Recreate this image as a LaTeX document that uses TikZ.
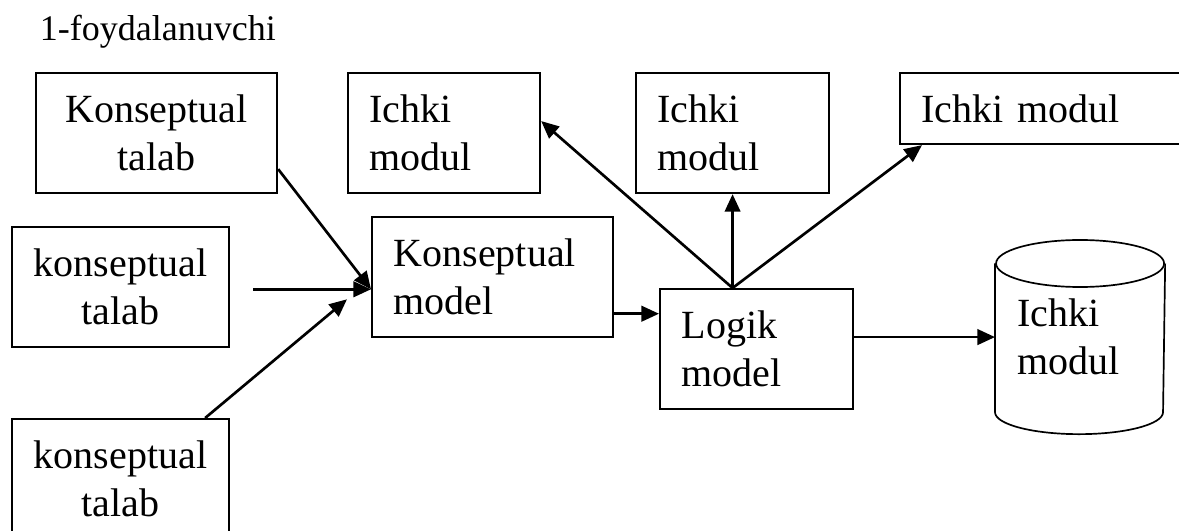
\documentclass[tikz,border=0pt]{standalone}
\usepackage{fontspec}
\setmainfont{Liberation Serif}
\usetikzlibrary{arrows.meta, positioning, calc}

\begin{document}
\begin{tikzpicture}[x=0.025cm, y=-0.025cm,
    font=\fontsize{28.45pt}{34.1pt}\selectfont,
    blok/.style={draw, line width=1.5pt, inner ysep=0pt, anchor=north west},
    talab/.style={blok, align=center},
    ichki/.style={blok, align=left, inner xsep=0.54cm, text width=#1},
    oq/.style={-{Triangle[length=12.5pt, width=11pt]}, line width=1.9pt},
    silinder/.style={line width=1.2pt}]
  \useasboundingbox (0,0) rectangle (1179,531);
  \node[anchor=base west, font=\fontsize{25.6pt}{30pt}\selectfont]
    (sarlavha) at (35,41) {1-foydalanuvchi};
  % talablar
  \node[talab, minimum width=6.025cm, minimum height=3cm] (talab1) at (35,72)
    {Konseptual\\talab};
  \node[talab, minimum width=5.425cm, minimum height=3cm] (talab2) at (11,226)
    {konseptual\\talab};
  \node[talab, minimum width=5.425cm, minimum height=3cm] (talab3) at (11,418)
    {konseptual\\talab};
  % modellar
  \node[ichki=4.945cm, minimum height=3cm] (km) at (371,216) {Konseptual\\model};
  \node[ichki=3.745cm, minimum height=3cm] (logik) at (659,288) {Logik\\model};
  % ichki modullar
  \node[ichki=3.72cm, minimum height=3cm] (ichA) at (347,72) {Ichki\\modul};
  \node[ichki=3.745cm, minimum height=3cm] (ichB) at (635,72) {Ichki\\modul};
  \node[ichki=6.42cm, minimum height=1.775cm] (ichC) at (899,72) {Ichki modul};
  \node[ichki=3.12cm, minimum height=4.8cm, draw=none] (cyl) at (995,240)
    {Ichki\\modul};
  \draw[silinder] ($(cyl.north)+(0,23.5)$) ellipse [x radius=2.1cm, y radius=0.5875cm];
  \draw[silinder] ($(cyl.north west)+(0,23.5)$) -- ($(cyl.south west)+(0,-22)$)
    arc[start angle=180, end angle=360, x radius=2.1cm, y radius=0.55cm]
    -- ($(cyl.north east)+(0,23.5)$);
  % bog'lanishlar
  \coordinate (kin) at ($(km.south west)!0.4!(km.north west)$);
  \coordinate (kout) at ($(km.south east)!0.2!(km.north east)$);
  \coordinate (tepa) at (ichB.south |- logik.north);
  \draw[oq] ($(talab1.south east)+(0,-25)$) -- (kin);
  \draw[oq] ($(talab2.east |- kin)+(23,0)$) -- (kin);
  \draw[oq] ($(talab3.north east)+(-25,0)$) -- ($(kin)+(-24,10)$);
  \draw[oq] (kout) -- (kout -| logik.west);
  \draw[oq] (tepa) -- ($(ichA.east)+(0,-12)$);
  \draw[oq] (tepa) -- (ichB.south);
  \draw[oq] (tepa) -- ($(ichC.south west)+(23,0)$);
  \draw[oq] (logik.east |- cyl.west) -- (cyl.west);
\end{tikzpicture}
\end{document}
